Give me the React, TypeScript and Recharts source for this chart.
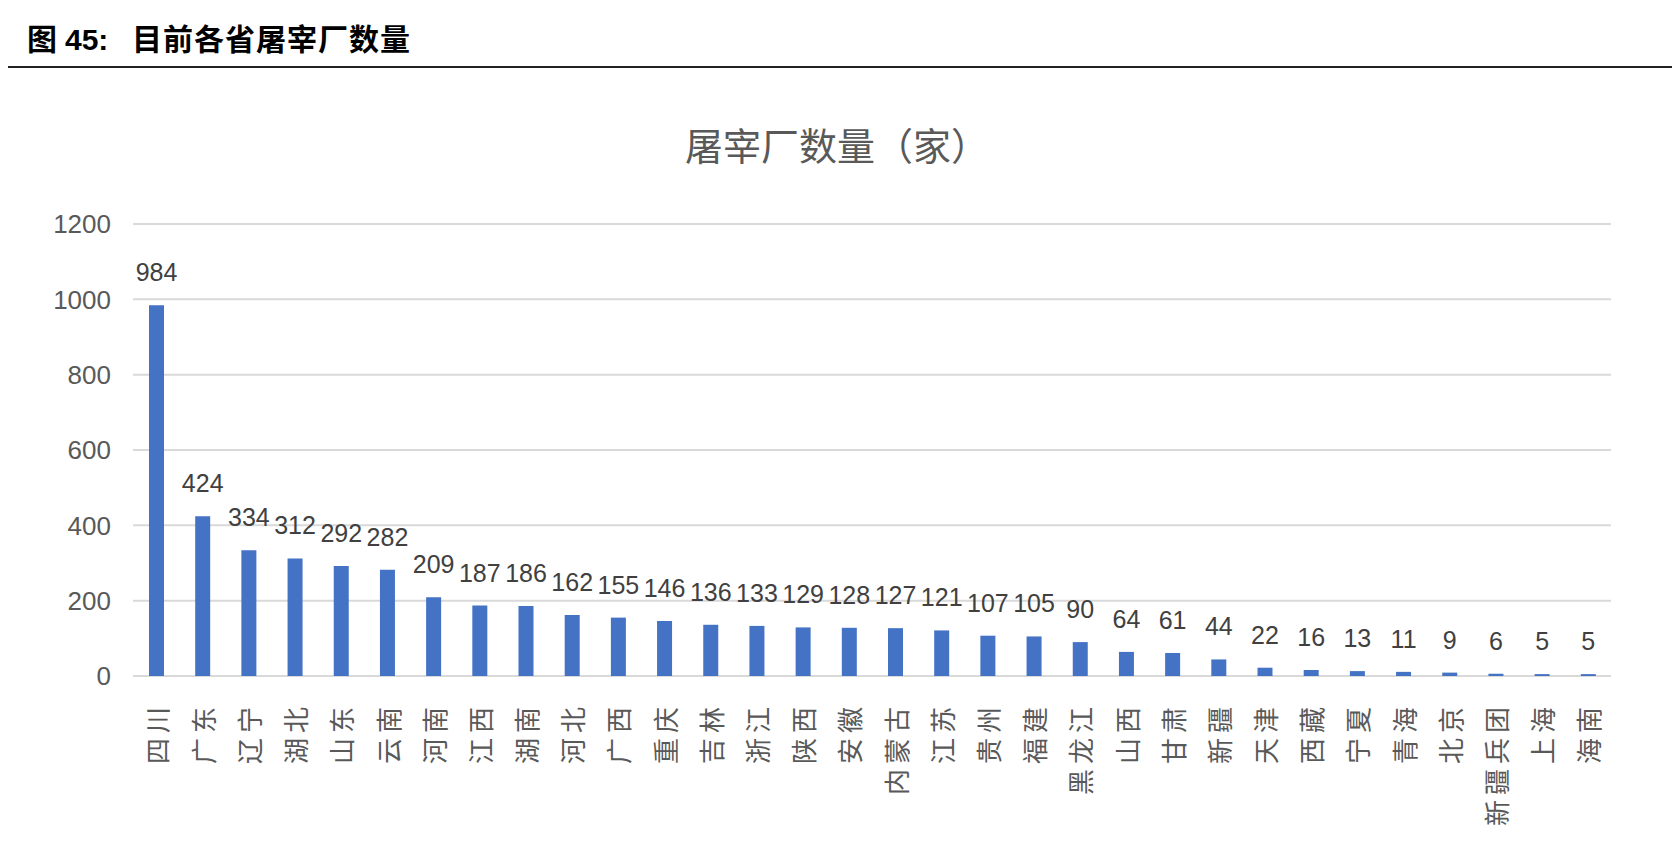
import React from 'react';
import { BarChart, Bar, XAxis, YAxis, CartesianGrid, LabelList } from 'recharts';

const provinces = [
  '四川', '广东', '辽宁', '湖北', '山东', '云南', '河南', '江西', '湖南', '河北', '广西',
  '重庆', '吉林', '浙江', '陕西', '安徽', '内蒙古', '江苏', '贵州', '福建', '黑龙江',
  '山西', '甘肃', '新疆', '天津', '西藏', '宁夏', '青海', '北京', '新疆兵团', '上海', '海南',
];
const plantCounts = [
  984, 424, 334, 312, 292, 282, 209, 187, 186, 162, 155,
  146, 136, 133, 129, 128, 127, 121, 107, 105, 90,
  64, 61, 44, 22, 16, 13, 11, 9, 6, 5, 5,
];
const yTicks = [0, 200, 400, 600, 800, 1000, 1200];

const chartData = provinces.map((name, i) => ({ name, count: plantCounts[i] }));

const FONT = '"Liberation Sans", "Noto Sans CJK SC", sans-serif';
const CJK = '"Noto Sans CJK SC", sans-serif';

// vertical province names, reading bottom to top like the excel export
const ProvinceTick = (props: any) => {
  const { x, y, payload } = props;
  return (
    <text
      transform={`translate(${x},${y + 18}) rotate(-90)`}
      textAnchor="end"
      dominantBaseline="central"
      fontFamily={CJK}
      fontSize={26}
      letterSpacing={5}
      fill="#595959"
    >
      {payload.value}
    </text>
  );
};

const App: React.FC = () => {
  return (
    <div style={{ position: 'relative', width: 1664, height: 832, background: '#fff' }}>
      <svg
        width={1672}
        height={832}
        style={{ position: 'absolute', left: 0, top: 0, pointerEvents: 'none' }}
      >
        <g fontWeight="bold" fill="#000" fontSize={30}>
          <text x={19} y={42} fontFamily={CJK}>图</text>
          <text x={57} y={42} fontFamily='"Liberation Sans", sans-serif'>45:</text>
          <text x={124} y={42} fontFamily={CJK} letterSpacing={1}>目前各省屠宰厂数量</text>
        </g>
        <line x1={0} x2={1672} y1={59} y2={59} stroke="#222" strokeWidth={2} />
        <text x={829} y={152} textAnchor="middle" fontFamily={CJK} fontSize={38} fill="#595959">
          屠宰厂数量（家）
        </text>
      </svg>
      <div style={{ position: 'absolute', left: 0, top: 0 }}>
        <BarChart
          width={1664}
          height={832}
          data={chartData}
          margin={{ top: 216, right: 61, left: 0, bottom: 14 }}
        >
          <CartesianGrid vertical={false} stroke="#d9d9d9" strokeWidth={2} />
          <XAxis
            dataKey="name"
            interval={0}
            tickLine={false}
            axisLine={false}
            height={150}
            tick={<ProvinceTick />}
          />
          <YAxis
            domain={[0, 1200]}
            ticks={yTicks}
            width={125}
            tickLine={false}
            axisLine={false}
            tickMargin={16}
            tick={{ fill: '#595959', fontSize: 26, fontFamily: FONT }}
          />
          <Bar dataKey="count" fill="#4472c4" barSize={15} isAnimationActive={false}>
            <LabelList
              dataKey="count"
              position="top"
              offset={24}
              fill="#404040"
              fontSize={25}
              fontFamily={FONT}
            />
          </Bar>
        </BarChart>
      </div>
    </div>
  );
};

export default App;
